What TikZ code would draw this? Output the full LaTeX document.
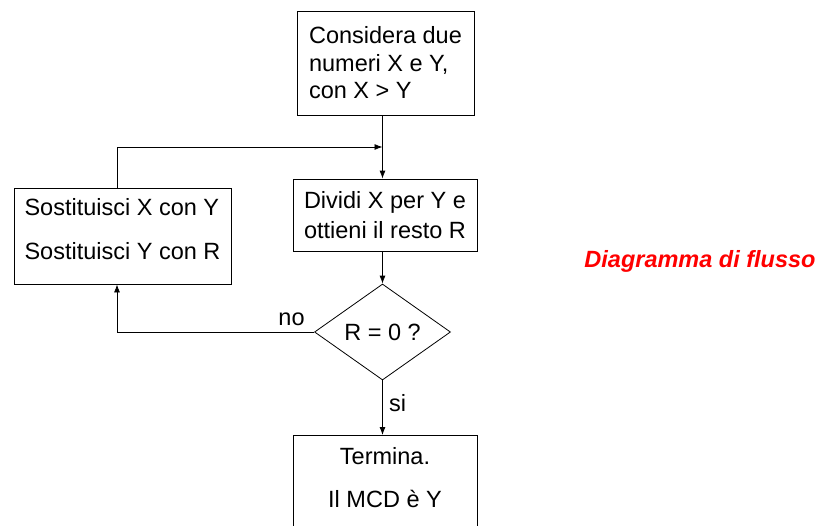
\documentclass[tikz,border=0pt]{standalone}
\usepackage{fontspec}
\setmainfont{Liberation Sans}
\usetikzlibrary{shapes.geometric,arrows.meta,calc}
\begin{document}
\begin{tikzpicture}[x=1pt,y=-1pt,line width=0.8pt,
  box/.style={draw,rectangle,inner sep=0pt,font=\fontsize{23.5}{27.5}\selectfont},
  arr/.style={-{Latex[length=8pt,width=6pt]}},
  lbl/.style={inner sep=0pt,anchor=base,font=\fontsize{23.5}{27.5}\selectfont}]
\useasboundingbox (0,0) rectangle (821,525);
\clip (0,0) rectangle (821,525);
\node[box,minimum width=177pt,minimum height=104pt,align=left] (start) at (385.5,63) {Considera due\\numeri X e Y,\\con X > Y};
\node[box,minimum width=184pt,minimum height=72pt,align=left,font=\fontsize{23.5}{30}\selectfont] (divide) at (385,215) {Dividi X per Y e\\ottieni il resto R};
\node[box,minimum width=217pt,minimum height=96pt,align=left,font=\fontsize{23.5}{44}\selectfont] (swap) at (122.5,236) {Sostituisci X con Y\\Sostituisci Y con R\rule[-15pt]{0pt}{15pt}};
\node[draw,diamond,aspect=1.4,minimum width=136pt,minimum height=96pt,inner sep=0pt,font=\fontsize{23.5}{27.5}\selectfont] (test) at (382.5,332) {R = 0 ?};
\node[box,minimum width=184pt,minimum height=95pt,align=center,anchor=north,font=\fontsize{23.5}{43}\selectfont] (finish) at (385,435) {Termina.\\Il MCD è Y\rule[-11pt]{0pt}{11pt}};
\node[inner sep=0pt,anchor=base,text=red,font=\fontsize{23.5}{27.5}\selectfont\bfseries\itshape] (title) at (700,267) {Diagramma di flusso};
\node[lbl] (no) at (291.5,325) {no};
\node[lbl] (si) at (397.5,411) {si};
\coordinate (J) at (382.5,147);
\coordinate (L) at (117,147);
\draw[arr] (start.south -| test) -- (divide.north -| test);
\draw[arr] (swap.north -| L) |- (J);
\draw[arr] (divide.south -| test) -- (test.north);
\draw[arr] (test.west) -| (swap.south -| L);
\draw[arr] (test.south) -- (finish.north -| test);
\end{tikzpicture}
\end{document}
